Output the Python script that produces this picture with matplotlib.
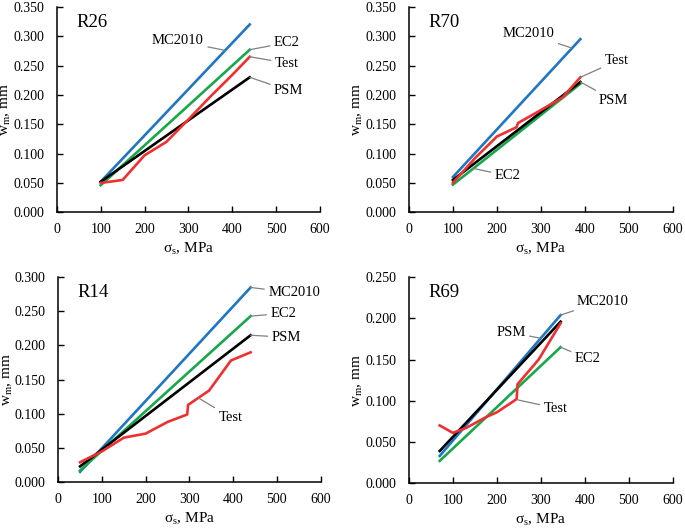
import matplotlib
matplotlib.use("Agg")
import matplotlib.pyplot as plt
from matplotlib.ticker import FormatStrFormatter, MultipleLocator

plt.rcParams['font.family'] = ['Liberation Serif', 'DejaVu Serif']
plt.rcParams['mathtext.fontset'] = 'custom'
plt.rcParams['mathtext.rm'] = 'Liberation Serif'

# R26
r26_x = [100, 440]
r26_mc2010 = [0.052, 0.320]
r26_ec2 = [0.046, 0.277]
r26_psm = [0.052, 0.230]
r26_test_x = [100, 150, 200, 250, 300, 350, 400, 440]
r26_test = [0.050, 0.055, 0.097, 0.120, 0.158, 0.197, 0.234, 0.265]

# R70
r70_x = [100, 390]
r70_mc2010 = [0.060, 0.295]
r70_ec2 = [0.047, 0.219]
r70_psm = [0.055, 0.222]
r70_test_x = [100, 150, 200, 245, 248, 300, 350, 390]
r70_test = [0.050, 0.092, 0.129, 0.145, 0.152, 0.174, 0.196, 0.230]

# R14
r14_x = [50, 440]
r14_mc2010 = [0.015, 0.285]
r14_ec2 = [0.017, 0.243]
r14_psm = [0.023, 0.215]
r14_test_x = [50, 100, 150, 200, 250, 295, 297, 345, 395, 440]
r14_test = [0.029, 0.045, 0.065, 0.071, 0.088, 0.099, 0.113, 0.134, 0.178, 0.190]

# R69
r69_x = [70, 345]
r69_mc2010 = [0.033, 0.204]
r69_ec2 = [0.027, 0.165]
r69_psm = [0.039, 0.196]
r69_test_x = [70, 100, 130, 175, 200, 245, 247, 295, 345]
r69_test = [0.070, 0.061, 0.067, 0.080, 0.086, 0.102, 0.120, 0.150, 0.194]

BLUE = '#1f77c4'
GREEN = '#16a84a'
RED = '#f03030'
LEADER = '#808080'


def draw_panel(ax, name, x, mc, ec, psm, tx, test, ymax, ystep, notes):
    ax.plot(x, mc, color=BLUE, lw=1.9)
    ax.plot(x, ec, color=GREEN, lw=1.9)
    ax.plot(x, psm, color='black', lw=1.9)
    ax.plot(tx, test, color=RED, lw=1.9)

    ax.set_xlim(0, 600)
    ax.set_ylim(0, ymax)
    ax.xaxis.set_major_locator(MultipleLocator(100))
    ax.yaxis.set_major_locator(MultipleLocator(ystep))
    ax.yaxis.set_major_formatter(FormatStrFormatter('%.3f'))
    ax.spines['top'].set_visible(False)
    ax.spines['right'].set_visible(False)
    for s in ('left', 'bottom'):
        ax.spines[s].set_linewidth(1.1)
    ax.tick_params(direction='in', length=4, width=1.0, labelsize=10)
    ax.tick_params(axis='x', pad=8)
    ax.tick_params(axis='y', pad=9)
    ax.set_xlabel(r'σ$_\mathrm{s}$, MPa', fontsize=11, labelpad=3)
    ax.set_ylabel(r'w$_\mathrm{m}$, mm', fontsize=11, labelpad=0)
    ax.text(0.075, 0.965, name, transform=ax.transAxes, fontsize=13.5,
            ha='left', va='top')

    for label, xy, xytext in notes:
        ax.annotate(label, xy=xy, xytext=xytext, fontsize=10.5,
                    ha='center', va='center',
                    arrowprops=dict(arrowstyle='-', color=LEADER, lw=0.9,
                                    shrinkA=1, shrinkB=0))


fig = plt.figure(figsize=(6.85, 5.28), dpi=100)

ax1 = fig.add_axes([0.083, 0.598, 0.384, 0.389])
ax2 = fig.add_axes([0.597, 0.598, 0.385, 0.389])
ax3 = fig.add_axes([0.085, 0.087, 0.383, 0.388])
ax4 = fig.add_axes([0.597, 0.085, 0.385, 0.390])

draw_panel(ax1, 'R26', r26_x, r26_mc2010, r26_ec2, r26_psm, r26_test_x, r26_test,
           0.35, 0.05,
           [('MC2010', (383, 0.276), (276, 0.292)),
            ('EC2', (440, 0.277), (525, 0.289)),
            ('Test', (440, 0.265), (525, 0.254)),
            ('PSM', (440, 0.230), (529, 0.207))])

draw_panel(ax2, 'R70', r70_x, r70_mc2010, r70_ec2, r70_psm, r70_test_x, r70_test,
           0.35, 0.05,
           [('MC2010', (370, 0.280), (273, 0.304)),
            ('Test', (390, 0.230), (473, 0.258)),
            ('PSM', (390, 0.222), (466, 0.191)),
            ('EC2', (145, 0.075), (225, 0.062))])

draw_panel(ax3, 'R14', r14_x, r14_mc2010, r14_ec2, r14_psm, r14_test_x, r14_test,
           0.30, 0.05,
           [('MC2010', (440, 0.285), (540, 0.277)),
            ('EC2', (440, 0.243), (515, 0.247)),
            ('PSM', (440, 0.215), (522, 0.212)),
            ('Test', (321, 0.123), (394, 0.095))])

draw_panel(ax4, 'R69', r69_x, r69_mc2010, r69_ec2, r69_psm, r69_test_x, r69_test,
           0.25, 0.05,
           [('MC2010', (345, 0.204), (441, 0.221)),
            ('PSM', (298, 0.176), (232, 0.183)),
            ('EC2', (345, 0.165), (407, 0.151)),
            ('Test', (248, 0.101), (334, 0.091))])

fig.savefig('out.png', dpi=100)
